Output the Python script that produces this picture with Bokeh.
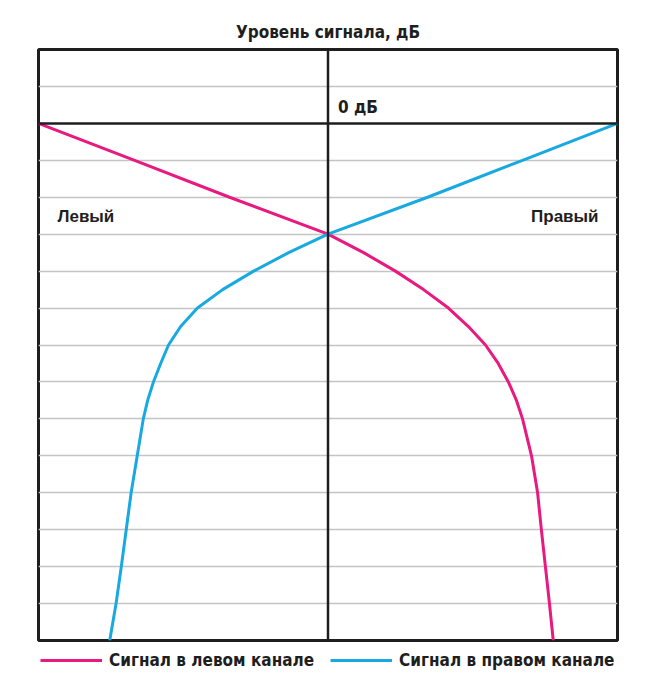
from bokeh.plotting import figure
from bokeh.layouts import column
from bokeh.models import Range1d, Span, Label, FixedTicker, Legend, LegendItem
from bokeh.embed import file_html
from bokeh.resources import INLINE

# pan position: -1 = fully left, +1 = fully right ; level in dB
left_pan = [-1.0, -0.668, -0.340, 0.0, 0.123, 0.233, 0.330, 0.416, 0.485, 0.544,
            0.588, 0.623, 0.651, 0.672, 0.703, 0.724, 0.737, 0.751, 0.765, 0.778]
left_db = [0, -1, -2, -3, -3.5, -4, -4.5, -5, -5.5, -6,
           -6.5, -7, -7.5, -8, -9, -10, -11, -12, -13, -14]

right_pan = [-0.754, -0.732, -0.714, -0.697, -0.680, -0.659, -0.638, -0.623, -0.603,
             -0.578, -0.551, -0.509, -0.451, -0.364, -0.257, -0.136, 0.0, 0.344, 0.672, 1.0]
right_db = [-14, -13, -12, -11, -10, -9, -8, -7.5, -7,
            -6.5, -6, -5.5, -5, -4.5, -4, -3.5, -3, -2, -1, 0]

grid_db = [-13, -12, -11, -10, -9, -8, -7, -6, -5, -4, -3, -2, -1, 1]

title_text = "Уровень сигнала, дБ"
zero_label = "0 дБ"
left_label = "Левый"
right_label = "Правый"
left_series = "Сигнал в левом канале"
right_series = "Сигнал в правом канале"

PINK = "#e8197f"
CYAN = "#19a9e1"
INK = "#1e1e1e"
COND = "DejaVu Sans Condensed"

p = figure(width=640, height=648, output_backend="svg", toolbar_location=None,
           x_range=Range1d(-1, 1), y_range=Range1d(-14, 2),
           min_border_left=38, min_border_right=23, min_border_top=49,
           min_border_bottom=8)
p.xaxis.visible = False
p.yaxis.visible = False
p.xgrid.visible = False
p.ygrid.ticker = FixedTicker(ticks=grid_db)
p.ygrid.grid_line_color = "#c4c4c4"
p.ygrid.grid_line_width = 1.5
p.outline_line_color = INK
p.outline_line_width = 3
p.background_fill_color = "white"
p.border_fill_color = "white"

p.title.text = title_text
p.title.align = "center"
p.title.text_font = COND
p.title.text_font_size = "17px"
p.title.text_font_style = "bold"
p.title.text_color = INK
p.title.standoff = 15

p.add_layout(Span(location=0, dimension="width", line_color=INK, line_width=2.5))
p.add_layout(Span(location=0, dimension="height", line_color=INK, line_width=2.5))

p.line(left_pan, left_db, line_color=PINK, line_width=3)
p.line(right_pan, right_db, line_color=CYAN, line_width=3)

p.add_layout(Label(x=0, y=0, text=zero_label, x_offset=10, y_offset=6,
                   text_font=COND, text_font_size="17px",
                   text_font_style="bold", text_color=INK, text_baseline="bottom"))
p.add_layout(Label(x=-1, y=-2.52, text=left_label, x_offset=19,
                   text_font="Liberation Sans", text_font_size="17px",
                   text_font_style="bold", text_color=INK, text_baseline="middle"))
p.add_layout(Label(x=1, y=-2.52, text=right_label, x_offset=-19, text_align="right",
                   text_font="Liberation Sans", text_font_size="17px",
                   text_font_style="bold", text_color=INK, text_baseline="middle"))

# legend strip below the chart (its ranges keep the series themselves out of view)
p2 = figure(width=640, height=28, output_backend="svg", toolbar_location=None,
            x_range=Range1d(5, 6), y_range=Range1d(5, 6),
            min_border_left=38, min_border_right=23, min_border_top=0, min_border_bottom=0)
p2.xaxis.visible = False
p2.yaxis.visible = False
p2.xgrid.visible = False
p2.ygrid.visible = False
p2.outline_line_color = None
p2.background_fill_color = "white"
p2.border_fill_color = "white"
k_left = p2.line(left_pan, left_db, line_color=PINK, line_width=3)
k_right = p2.line(right_pan, right_db, line_color=CYAN, line_width=3)

legend = Legend(items=[LegendItem(label=left_series, renderers=[k_left]),
                       LegendItem(label=right_series, renderers=[k_right])],
                orientation="horizontal", location=(2, 6),
                glyph_width=62, glyph_height=18, label_standoff=7, spacing=16,
                padding=0, margin=0, border_line_color=None,
                background_fill_alpha=0,
                label_text_font=COND, label_text_font_size="17px",
                label_text_font_style="bold", label_text_color=INK,
                label_height=18)
p2.add_layout(legend)

layout = column(p, p2, spacing=0)
open("out.html", "w").write(file_html(layout, INLINE))
